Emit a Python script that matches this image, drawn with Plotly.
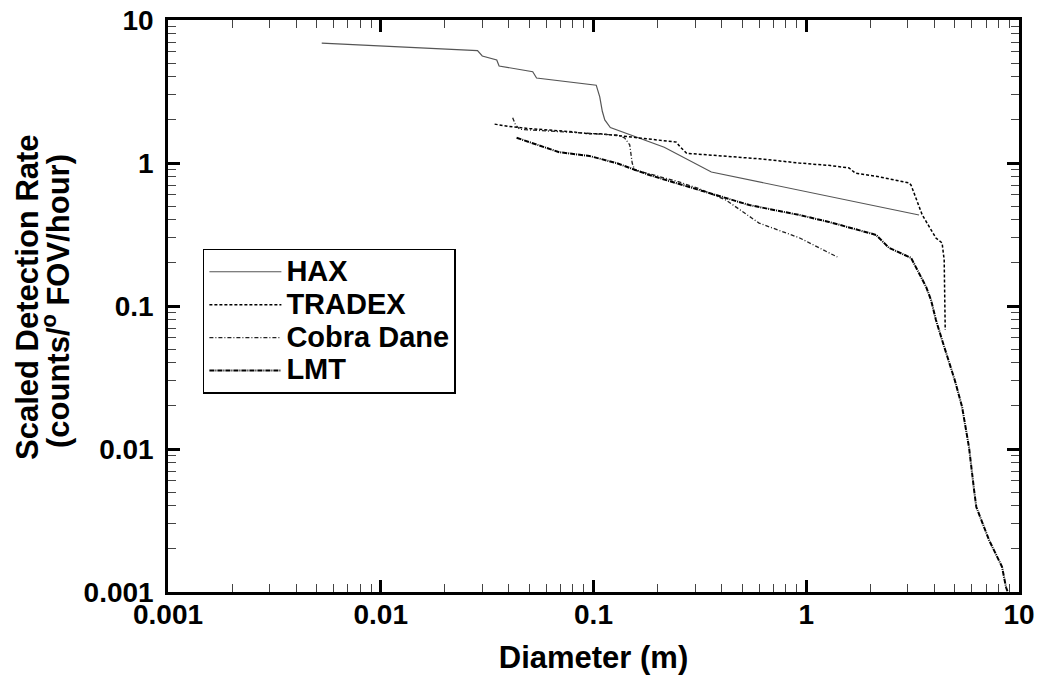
import plotly.graph_objects as go

# ---- data ----
hax_x = [0.00528, 0.0285, 0.030, 0.0351, 0.036, 0.0518, 0.054, 0.103, 0.107, 0.110, 0.113, 0.12, 0.215, 0.358, 3.39]
hax_y = [6.9, 6.1, 5.6, 5.25, 4.77, 4.35, 3.93, 3.5, 2.9, 2.3, 2.0, 1.77, 1.29, 0.865, 0.433]

tradex_x = [0.0343, 0.04, 0.05, 0.062, 0.08, 0.0957, 0.107, 0.15, 0.2, 0.245, 0.255, 0.274, 0.4, 0.6,
            0.927, 1.3, 1.59, 1.70, 2.2, 3.05, 3.11, 3.3, 3.51, 4.07, 4.35, 4.45, 4.48, 4.5]
tradex_y = [1.87, 1.80, 1.74, 1.70, 1.65, 1.60, 1.60, 1.52, 1.45, 1.40, 1.30, 1.17, 1.12, 1.07,
            1.0, 0.96, 0.923, 0.85, 0.80, 0.725, 0.70, 0.55, 0.433, 0.299, 0.276, 0.21, 0.12, 0.068]

cobra_x = [0.0417, 0.043, 0.045, 0.06, 0.08, 0.1, 0.128, 0.14, 0.148, 0.152, 0.156, 0.183, 0.25,
           0.315, 0.42, 0.6, 0.927, 1.40]
cobra_y = [2.07, 1.85, 1.72, 1.68, 1.65, 1.62, 1.57, 1.50, 1.34, 1.0, 0.894, 0.84, 0.74,
           0.66, 0.55, 0.38, 0.30, 0.220]

lmt_x = [0.0435, 0.05, 0.069, 0.0957, 0.128, 0.183, 0.315, 0.54, 0.927, 1.28, 2.13, 2.45, 3.11, 3.39,
         3.66, 3.86, 4.07, 4.35, 4.69, 5.0, 5.40, 5.82, 6.15, 6.30, 7.23, 8.32, 8.69, 8.85]
lmt_y = [1.50, 1.40, 1.19, 1.12, 1.0, 0.824, 0.647, 0.508, 0.433, 0.387, 0.314, 0.255, 0.217, 0.170,
         0.136, 0.110, 0.0798, 0.0578, 0.040, 0.030, 0.0197, 0.0103, 0.00516, 0.00393, 0.00231, 0.0015, 0.00108, 0.001]

series_names = ["HAX", "TRADEX", "Cobra Dane", "LMT"]
tick_vals = [0.001, 0.01, 0.1, 1, 10]
tick_text = ["0.001", "0.01", "0.1", "1", "10"]
minor_vals = [m * d for d in [0.001, 0.01, 0.1, 1] for m in range(2, 10)]

FONT = "Liberation Sans, Arial, Helvetica, sans-serif"


def lname(s):
    return '<span style="font-size:29px">' + s + '</span>'


fig = go.Figure()
fig.add_trace(go.Scatter(x=hax_x, y=hax_y, mode="lines", name=lname(series_names[0]),
                         line=dict(color="#555555", width=1.2)))
fig.add_trace(go.Scatter(x=tradex_x, y=tradex_y, mode="lines", name=lname(series_names[1]),
                         line=dict(color="black", width=1.5, dash="3px,2px")))
fig.add_trace(go.Scatter(x=cobra_x, y=cobra_y, mode="lines", name=lname(series_names[2]),
                         line=dict(color="#222222", width=1.3, dash="4px,2px,1px,2px")))
fig.add_trace(go.Scatter(x=lmt_x, y=lmt_y, mode="lines", name=lname(series_names[3]),
                         line=dict(color="black", width=2, dash="5px,1px,1px,1px")))

axis_common = dict(
    type="log", range=[-3, 1], showgrid=False, zeroline=False,
    showline=True, linecolor="black", linewidth=2.5, mirror="allticks",
    ticks="inside", ticklen=12, tickwidth=3, tickcolor="black",
    ticklabeloverflow="allow",
    tickmode="array", tickvals=tick_vals, ticktext=tick_text,
    tickfont=dict(family=FONT, size=28, color="black", weight="bold"),
    minor=dict(ticks="inside", ticklen=8, tickwidth=1.2, tickcolor="#444444",
               tickmode="array", tickvals=minor_vals, showgrid=False),
)

fig.update_layout(
    xaxis=dict(**axis_common, ticklabelstandoff=-4,
               title=dict(text="Diameter (m)", standoff=17,
                          font=dict(family=FONT, size=31, color="black", weight="bold"))),
    yaxis=dict(**axis_common, ticklabelstandoff=6, title=dict(text="")),
)

# two-line y-axis title, drawn as rotated text lines
fig.add_annotation(text="Scaled Detection Rate", xref="paper", yref="paper", x=0, y=0.5,
                   xanchor="center", yanchor="middle", xshift=-141, yshift=9, textangle=-90,
                   showarrow=False,
                   font=dict(family=FONT, size=31, color="black", weight="bold"))
fig.add_annotation(text="(counts/<sup>o</sup> FOV/hour)", xref="paper", yref="paper", x=0, y=0.5,
                   xanchor="center", yanchor="middle", xshift=-112, yshift=5, textangle=-90,
                   showarrow=False,
                   font=dict(family=FONT, size=31, color="black", weight="bold"))

fig.update_layout(
    width=1036, height=677,
    margin=dict(l=160, r=25, t=12, b=93, autoexpand=False),
    paper_bgcolor="white", plot_bgcolor="white",
    showlegend=True,
    legend=dict(x=0.041, y=0.6, xanchor="left", yanchor="top",
                bgcolor="white", bordercolor="black", borderwidth=1.5,
                font=dict(family=FONT, size=23, color="black", weight="bold"),
                itemwidth=72, tracegroupgap=0),
)

fig.write_html("out.html")
